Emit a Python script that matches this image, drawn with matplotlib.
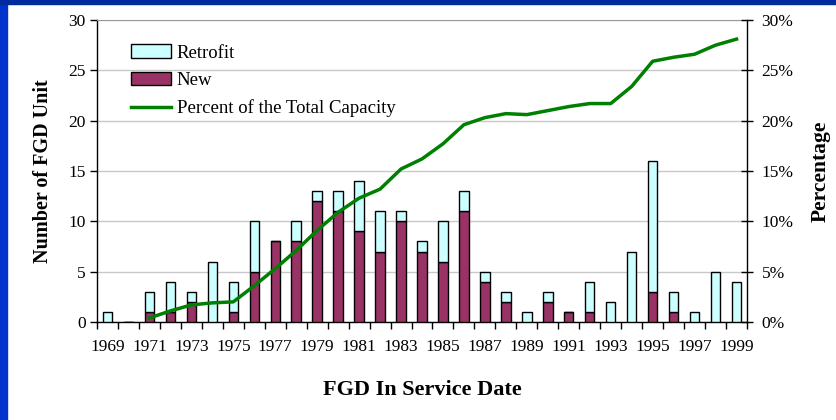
import numpy as np
import matplotlib.pyplot as plt
from matplotlib.patches import Rectangle
from matplotlib.ticker import PercentFormatter, FixedLocator

plt.rcParams['font.family'] = ['Liberation Serif', 'DejaVu Serif']

# 연도별 FGD 설치 대수
years = list(range(1969, 2000))
new_units = [0, 0, 1, 1, 2, 0, 1, 5, 8, 8, 12, 11, 9, 7, 10, 7, 6, 11,
             4, 2, 0, 2, 1, 1, 0, 0, 3, 1, 0, 0, 0]
total_units = [1, 0, 3, 4, 3, 6, 4, 10, 8, 10, 13, 13, 14, 11, 11, 8, 10, 13,
               5, 3, 1, 3, 1, 4, 2, 7, 16, 3, 1, 5, 4]
retrofit_units = [t - n for t, n in zip(total_units, new_units)]

# 총 용량 대비 누적 비율 (1971년부터)
pct_years = list(range(1971, 2000))
pct_capacity = [0.4, 1.1, 1.7, 1.9, 2.0, 3.6, 5.3, 7.1, 9.1, 10.9, 12.3, 13.2,
                 15.2, 16.2, 17.7, 19.6, 20.3, 20.7, 20.6, 21.0, 21.4, 21.7,
                 21.7, 23.4, 25.9, 26.3, 26.6, 27.5, 28.1]

fig = plt.figure(figsize=(8.37, 4.2), dpi=100)
# 슬라이드 배경 테두리 (파란색)
fig.patches.append(Rectangle((0, 0), 7 / 837, 1, transform=fig.transFigure,
                             color='#0033cc', zorder=0))
fig.patches.append(Rectangle((0, 1 - 4 / 420), 1, 4 / 420, transform=fig.transFigure,
                             color='#002b9e', zorder=0))

ax = fig.add_axes([97 / 837, 1 - 322 / 420, 650 / 837, 302 / 420])
x = np.arange(len(years))
w = 0.45
b_new = ax.bar(x, new_units, w, color='#993366', edgecolor='black', linewidth=1.0,
               label='New', zorder=3)
b_ret = ax.bar(x, retrofit_units, w, bottom=new_units, color='#ccffff',
               edgecolor='black', linewidth=1.0, label='Retrofit', zorder=3)

ax.set_xlim(-0.5, len(years) - 0.5)
ax.set_ylim(0, 30)
ax.set_yticks(range(0, 31, 5))
ax.yaxis.grid(True, color='#c8c8c8', linewidth=1.0, zorder=0)
ax.set_axisbelow(True)

odd = [i for i, y in enumerate(years) if y % 2 == 1]
ax.set_xticks(odd)
ax.set_xticklabels([str(years[i]) for i in odd])
ax.xaxis.set_minor_locator(FixedLocator(np.arange(-0.5, len(years), 1.0)))
ax.tick_params(axis='x', which='major', length=0, pad=12, labelsize=12.5)
ax.tick_params(axis='x', which='minor', length=5, width=1.0, direction='out')
ax.tick_params(axis='y', length=5, width=1.0, direction='out', pad=3, labelsize=12.5)

ax.spines['top'].set_color('#999999')
ax.spines['right'].set_visible(False)
for s in ['left', 'bottom']:
    ax.spines[s].set_linewidth(1.0)

ax.set_xlabel('FGD In Service Date', fontsize=16, fontweight='bold', labelpad=18)
ax.set_ylabel('Number of FGD Unit', fontsize=14.5, fontweight='bold', labelpad=11)

ax2 = ax.twinx()
px = [years.index(y) for y in pct_years]
line, = ax2.plot(px, pct_capacity, color='#008000', linewidth=2.5,
                 label='Percent of the Total Capacity', zorder=5)
ax2.set_ylim(0, 30)
ax2.set_yticks(range(0, 31, 5))
ax2.yaxis.set_major_formatter(PercentFormatter(decimals=0))
ax2.tick_params(axis='y', length=9, width=1.0, direction='inout', pad=6, labelsize=12.5)
ax2.spines['top'].set_visible(False)
ax2.spines['left'].set_visible(False)
ax2.spines['bottom'].set_visible(False)
ax2.spines['right'].set_linewidth(1.0)
ax2.set_ylabel('Percentage', fontsize=15.5, fontweight='bold', labelpad=12)

ax2.legend([b_ret, b_new, line], ['Retrofit', 'New', 'Percent of the Total Capacity'],
           loc='upper left', bbox_to_anchor=(0.027, 0.975), frameon=False,
           fontsize=13.5, handlelength=2.1, handletextpad=0.32, labelspacing=0.55)

fig.savefig('out.png', dpi=100)
